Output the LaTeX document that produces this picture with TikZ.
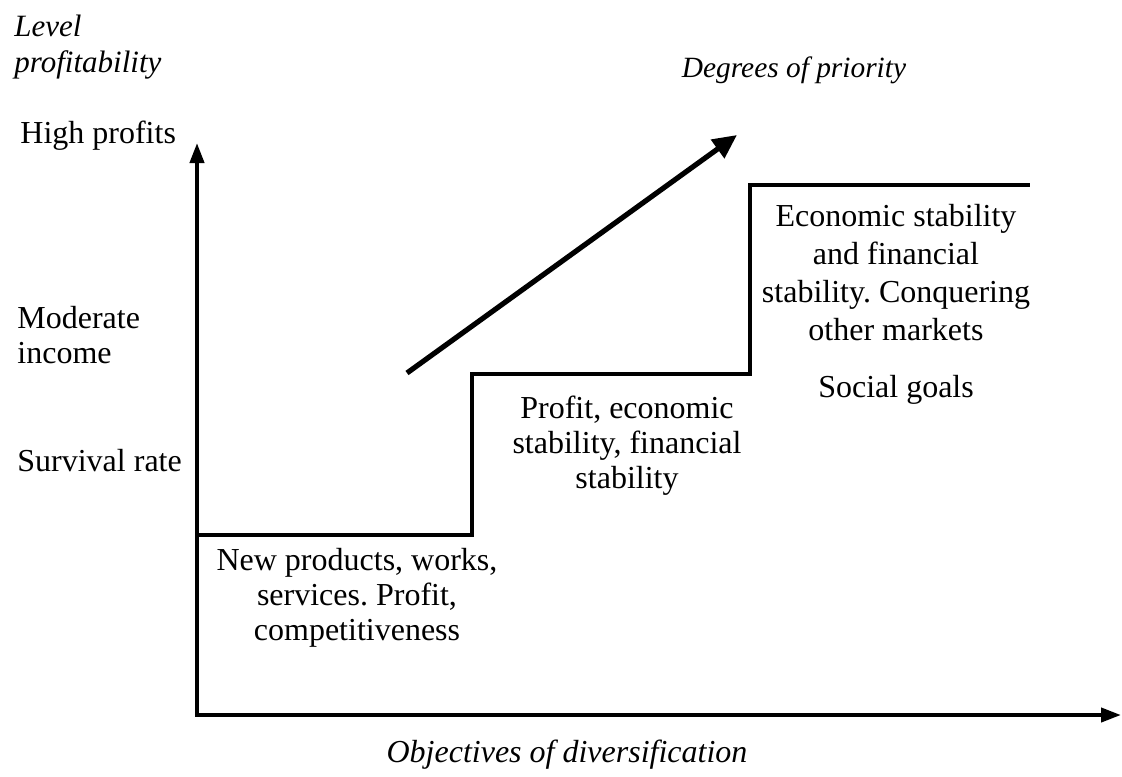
\documentclass[tikz,border=0pt]{standalone}
\usepackage{fontspec}
\setmainfont{Liberation Serif}
\usetikzlibrary{arrows.meta, positioning}
\frenchspacing

\begin{document}
\begin{tikzpicture}[
    x=0.5pt, y=-0.5pt,
    axis/.style={line width=2pt, line join=miter,
                 {Triangle[length=10pt, width=7pt]}-{Triangle[length=10pt, width=7pt]}},
    stepline/.style={line width=2pt, line join=miter},
    prioarrow/.style={line width=2.6pt, -{Triangle[length=12pt, width=11pt]}},
    lbl/.style={inner sep=0pt, font=\fontsize{16}{17.5}\selectfont},
    goal/.style={lbl, align=center},
    axlbl/.style={inner sep=0pt, font=\fontsize{16}{18}\selectfont\itshape},
]
    \useasboundingbox (0,0) rectangle (1122,776);

    % axes
    \coordinate (ytop) at (197,143);
    \coordinate (origin) at (197,715);
    \coordinate (xend) at (1121,715);
    \draw[axis] (ytop) -- (origin) -- (xend);

    % steps of the objectives
    \coordinate (s0) at (197,535);
    \coordinate (s1) at (472,535);
    \coordinate (s2) at (472,374);
    \coordinate (s3) at (750,374);
    \coordinate (s4) at (750,185);
    \coordinate (s5) at (1030,185);
    \draw[stepline] (s0) -- (s1) -- (s2) -- (s3) -- (s4) -- (s5);

    % priority arrow
    \coordinate (pstart) at (407,373);
    \coordinate (pend) at (737,135);
    \draw[prioarrow] (pstart) -- (pend);

    % axis labels
    \node[axlbl, font=\fontsize{15.5}{18}\selectfont\itshape, anchor=west, align=left]
        (level) at (14,47) {Level\\profitability};
    \node[axlbl, font=\fontsize{14.7}{18}\selectfont\itshape] (priority) at (794,70) {Degrees of priority};
    \node[axlbl] (objectives) at (567,755) {Objectives of diversification};

    % levels
    \node[lbl, anchor=west] (high) at (20,136) {High profits};
    \node[lbl, anchor=west, align=left] (moderate) at (17,335) {Moderate\\income};
    \node[lbl, anchor=west] (survival) at (17,461) {Survival rate};

    % goals
    \node[goal] (goal1) at (357,598) {New products, works,\\services. Profit,\\competitiveness};
    \node[goal] (goal2) at (627,446) {Profit, economic\\stability, financial\\stability};
    \node[goal, font=\fontsize{16}{19}\selectfont] (goal3) at (896,273)
        {Economic stability\\and financial\\stability. Conquering\\other markets};
    \node[lbl] (social) at (896,390) {Social goals};
\end{tikzpicture}
\end{document}
